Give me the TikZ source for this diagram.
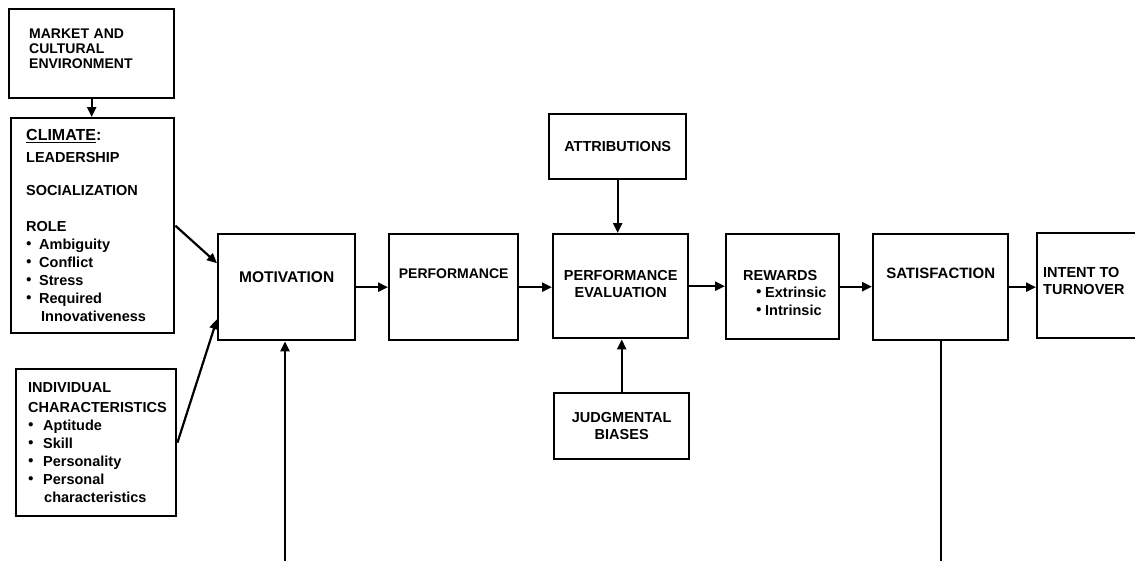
\documentclass[tikz,border=0pt]{standalone}
\usepackage{fontspec}
\setmainfont{Liberation Sans}
\usetikzlibrary{arrows.meta,positioning}
\tikzset{
  box/.style={
    draw, line width=2.4pt, anchor=north west, inner sep=0pt,
    align=center, font=\fontsize{14.5}{17}\selectfont\bfseries,
  },
  sidebox/.style={
    box, align=left, inner xsep=#1, inner ysep=0pt,
    font=\fontsize{14.5}{18}\selectfont\bfseries,
  },
  lbl/.style={inner sep=0pt, align=center, font=\fontsize{14.5}{17.5}\selectfont\bfseries},
  arr/.style={-{Triangle[length=10pt,width=9pt]}, line width=2.2pt},
  feed/.style={line width=2.2pt},
}
\newcommand{\bul}[1][13pt]{\makebox[#1][l]{\raisebox{3pt}{\fontsize{11}{11}\selectfont$\bullet$}}}

\begin{document}
\begin{tikzpicture}[x=1pt,y=-1pt]
  \useasboundingbox (0,0) rectangle (1135,560);

  % left column
  \node[sidebox=20pt, minimum width=165pt, minimum height=89pt, text width=125pt,
        font=\fontsize{14}{15}\selectfont\bfseries] (mkt) at (8,8)
    {MARKET AND\\CULTURAL\\ENVIRONMENT\\[-5pt]\mbox{}};
  \node[sidebox=15pt, minimum width=163pt, minimum height=215pt, text width=133pt] (clim) at (10,117)
    {{\fontsize{16}{18}\selectfont\underline{CLIMATE}:}\\[4pt]
     LEADERSHIP\\[15pt]
     SOCIALIZATION\\[18pt]
     ROLE\\
     \bul Ambiguity\\
     \bul Conflict\\
     \bul Stress\\
     \bul Required\\
     \hspace*{15pt}Innovativeness};
  \node[sidebox=12pt, minimum width=160pt, minimum height=147pt, text width=136pt] (indiv) at (15,368)
    {INDIVIDUAL\\[2pt]
     CHARACTERISTICS\\
     \bul[15pt]Aptitude\\
     \bul[15pt]Skill\\
     \bul[15pt]Personality\\
     \bul[15pt]Personal\\
     \hspace*{16pt}characteristics};

  % main row
  \node[box, minimum width=137pt, minimum height=106pt] (mot) at (217,233) {};
  \node[lbl, below=38pt of mot.north, font=\fontsize{15.5}{17}\selectfont\bfseries] (motT) {MOTIVATION};
  \node[box, minimum width=129pt, minimum height=106pt] (perf) at (388,233) {};
  \node[lbl, below=36pt of perf.north, font=\fontsize{14}{17}\selectfont\bfseries] (perfT) {PERFORMANCE};
  \node[box, minimum width=135pt, minimum height=104pt] (pe) at (552,233) {};
  \node[lbl, below=37pt of pe.north] (peT) {PERFORMANCE\\EVALUATION};
  \node[box, minimum width=113pt, minimum height=105pt] (rew) at (725,233) {};
  \node[lbl, align=left, anchor=north west] (rewT) at ([xshift=18pt,yshift=-37pt]rew.north west)
    {REWARDS\\
     \hspace*{13pt}\bul[9pt]Extrinsic\\
     \hspace*{13pt}\bul[9pt]Intrinsic};
  \node[box, minimum width=135pt, minimum height=106pt] (sat) at (872,233) {};
  \node[lbl, below=35pt of sat.north, font=\fontsize{15}{17}\selectfont\bfseries] (satT) {SATISFACTION};
  \node[box, minimum width=106pt, minimum height=105pt] (intent) at (1036,232) {};
  \node[lbl, align=left, anchor=north west] (intentT) at ([xshift=7pt,yshift=-35pt]intent.north west)
    {INTENT TO\\TURNOVER};

  % inputs to evaluation
  \node[box, minimum width=137pt, minimum height=65pt] (attr) at (548,113) {ATTRIBUTIONS};
  \node[box, minimum width=135pt, minimum height=66pt] (judg) at (553,392) {JUDGMENTAL\\BIASES};

  \coordinate (fbl) at (285,562);
  \coordinate (fbr) at (943,562);

  \draw[arr] (mkt.south) -- (mkt.south |- clim.north);
  \draw[arr] (clim.east) -- ([yshift=24pt]mot.west);
  \draw[arr] (indiv.east) -- ([yshift=-32pt]mot.west);
  \draw[arr] (mot.east) -- (perf.west |- mot.east);
  \draw[arr] (perf.east) -- (pe.west |- perf.east);
  \draw[arr] (pe.east) -- (rew.west |- pe.east);
  \draw[arr] (rew.east) -- (sat.west |- rew.east);
  \draw[arr] (sat.east) -- (intent.west |- sat.east);
  \draw[arr] (attr.south) -- (attr.south |- pe.north);
  \draw[arr] (judg.north) -- (judg.north |- pe.south);
  \draw[arr] (fbl) -- (fbl |- mot.south);
  \draw[feed] (sat.south) -- (sat.south |- fbr);
\end{tikzpicture}
\end{document}
